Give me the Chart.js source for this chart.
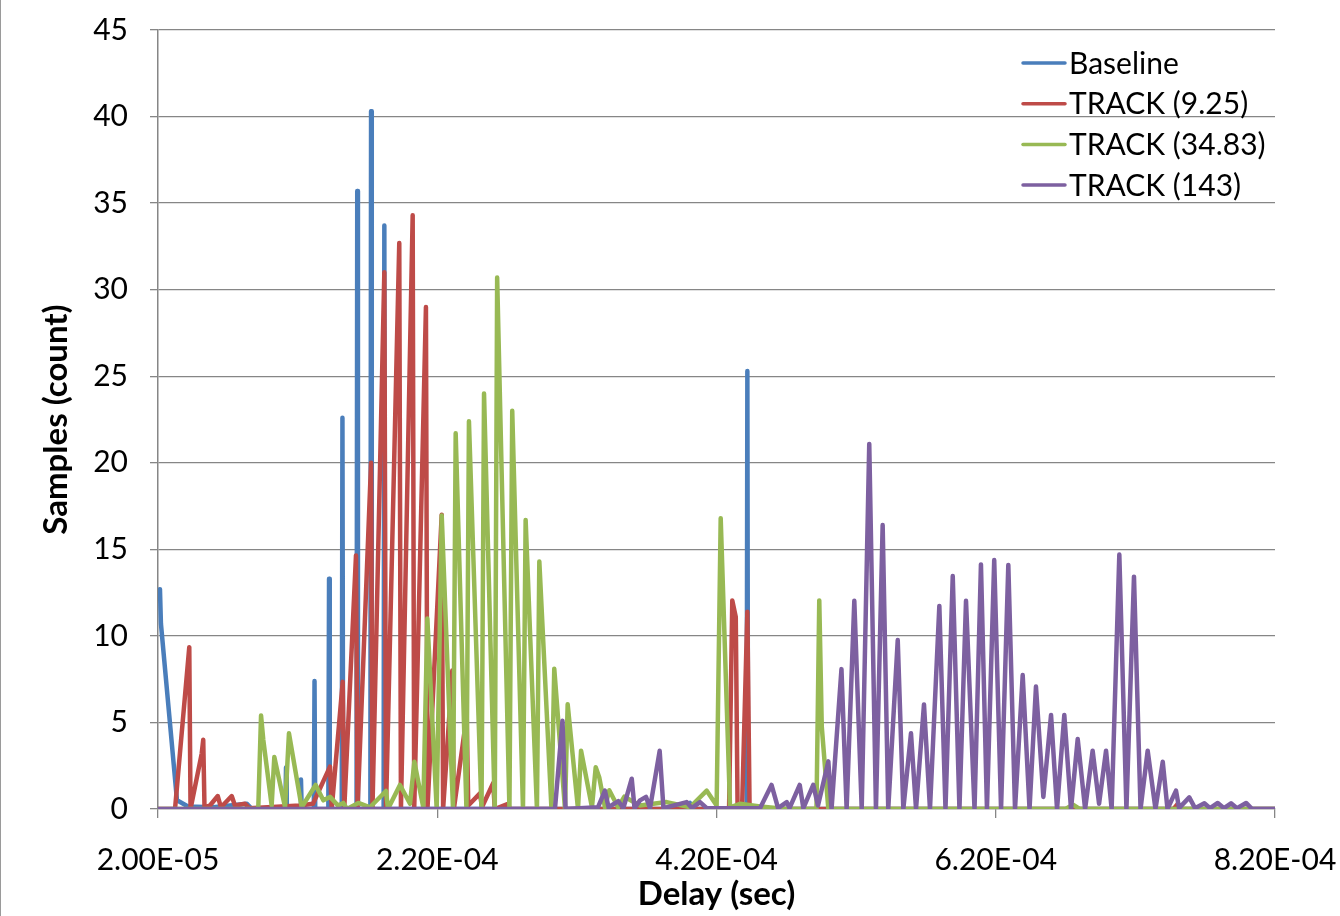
<!doctype html>
<html>
<head>
<meta charset="utf-8">
<title>Delay histogram</title>
<script src="https://cdn.jsdelivr.net/npm/chart.js@4.4.0/dist/chart.umd.min.js"></script>
<style>
  body { margin: 0; background: #fff; }
  .wrap { position: relative; width: 1340px; height: 916px; }
  .edge { position: absolute; left: 0; top: 0; width: 1px; height: 916px; background: #9a9a9a; }
</style>
</head>
<body>
<div class="wrap">
  <canvas id="canvas" width="1340" height="916"></canvas>
  <div class="edge"></div>
</div>
<script>
  // delays are in microseconds, converted to seconds for the axis
  const baselineX = [21.4, 22.1, 33.6, 41.5, 59.4, 83.7, 87.3, 111.2, 111.7, 112.2, 121.9, 122.4, 122.9, 131.6, 132.1, 132.6, 142.0, 142.5, 143.0, 151.6, 152.1, 152.6, 162.2, 162.7, 163.2, 172.1, 172.6, 173.1, 181.6, 182.1, 182.6, 396.0, 401.0, 405.0, 441.6, 442.1, 442.6, 820];
  const baselineY = [12.7, 10.7, 0.5, 0.15, 0.1, 0.3, 0, 0, 2.4, 0, 0, 1.7, 0, 0, 7.4, 0, 0, 13.3, 0, 0, 22.6, 0, 0, 35.7, 0, 0, 40.3, 0, 0, 33.7, 0, 0, 0.35, 0, 0, 25.3, 0, 0];

  const track925X = [20, 32.2, 42.4, 43.3, 51.3, 52.4, 53.3, 57.2, 62.8, 65.1, 72.8, 75.1, 82.3, 85.2, 121.7, 131.0, 143.2, 144.4, 152.3, 153.4, 161.8, 162.9, 172.6, 173.6, 182.1, 183.3, 192.8, 194.0, 202.4, 203.5, 211.9, 213.0, 223.2, 224.2, 230.8, 231.9, 241.1, 242.2, 250.6, 252.0, 260.1, 261.2, 270.7, 272.1, 429.0, 431.3, 433.8, 435.1, 438.3, 442.1, 443.7, 747.4, 750.3, 753.1, 820];
  const track925Y = [0, 0, 9.35, 0, 3.2, 4.0, 0.1, 0.2, 0.75, 0.1, 0.75, 0.2, 0.3, 0.05, 0.2, 0.3, 2.45, 0, 7.35, 0, 14.65, 0, 20.0, 0, 31.0, 0, 32.7, 0, 34.3, 0, 29.0, 0, 17.0, 0, 8.0, 0, 5.4, 0.2, 0.9, 0.1, 1.5, 0, 0.3, 0, 0, 12.05, 11.1, 0, 0, 11.4, 0, 0, 0.3, 0, 0];

  const track3483X = [20, 91.8, 93.8, 95.4, 101.4, 103.3, 111.0, 113.8, 122.9, 132.9, 138.4, 143.2, 148.9, 152.7, 155.4, 163.5, 171.8, 183.3, 184.7, 193.3, 200.5, 203.6, 210.0, 212.9, 219.6, 223.2, 231.3, 233.2, 240.9, 242.7, 251.7, 253.5, 261.2, 262.9, 271.7, 273.7, 281.4, 283.3, 291.4, 293.1, 301.8, 303.8, 311.5, 313.4, 320.8, 323.0, 330.8, 333.5, 336.1, 340.1, 343.2, 349.5, 354.0, 365.2, 384.3, 401.0, 413.0, 420.1, 423.0, 429.7, 436.8, 451.2, 470.0, 491.6, 493.6, 495.4, 500.1, 670.0, 675.3, 680.0, 820];
  const track3483Y = [0, 0, 5.4, 4.0, 0.2, 3.0, 0.1, 4.37, 0.1, 1.39, 0.5, 0.7, 0.2, 0.35, 0, 0.35, 0.1, 1.04, 0, 1.39, 0.3, 2.73, 0.1, 11.0, 0, 16.95, 0, 21.7, 0, 22.4, 0, 24.0, 0, 30.7, 0, 23.0, 0, 16.7, 0, 14.3, 0, 8.1, 0, 6.05, 0, 3.37, 0.1, 2.41, 1.8, 0.1, 1.08, 0.1, 0.71, 0.2, 0.4, 0.1, 1.06, 0.2, 16.8, 0.1, 0.3, 0.15, 0, 0, 12.05, 4.75, 0, 0, 0.25, 0, 0];

  const track143X = [20, 304.3, 309.7, 311.9, 335.1, 340.1, 342.7, 349.7, 353.3, 359.3, 361.3, 365.2, 369.5, 372.4, 379.3, 382.0, 398.6, 402.4, 408.2, 413.0, 451.2, 459.4, 464.1, 470.3, 472.3, 479.6, 482.2, 489.3, 492.7, 500.1, 502.4, 509.5, 513.2, 518.7, 524.0, 529.4, 534.2, 539.0, 543.0, 549.8, 553.8, 559.3, 562.9, 568.6, 572.9, 579.6, 584.0, 589.2, 594.0, 598.7, 604.8, 609.4, 613.7, 618.9, 623.8, 629.0, 633.8, 639.3, 644.2, 648.8, 654.1, 659.6, 663.9, 669.1, 673.9, 678.7, 684.0, 689.4, 694.0, 699.0, 703.0, 708.5, 713.6, 719.0, 723.7, 728.8, 734.4, 739.6, 743.0, 749.1, 751.3, 758.6, 762.7, 769.4, 773.5, 779.0, 783.5, 788.5, 792.8, 799.3, 803.6, 820];
  const track143Y = [0, 0, 5.1, 0, 0.1, 1.06, 0.1, 0.45, 0.05, 1.75, 0.05, 0.5, 0.7, 0.05, 3.36, 0.05, 0.4, 0.05, 0.4, 0.05, 0.05, 1.39, 0.05, 0.4, 0.05, 1.39, 0.05, 1.39, 0.2, 2.75, 0, 8.08, 0, 12.03, 0, 21.09, 0, 16.4, 0, 9.76, 0, 4.37, 0, 6.04, 0, 11.73, 0, 13.46, 0, 12.03, 0, 14.13, 0, 14.38, 0, 14.1, 0, 7.74, 0, 7.07, 0.7, 5.43, 0, 5.43, 0, 4.04, 0, 3.37, 0.3, 3.37, 0, 14.7, 0, 13.42, 0, 3.37, 0, 2.73, 0, 1.06, 0.05, 0.67, 0.05, 0.33, 0.05, 0.35, 0.05, 0.33, 0.05, 0.35, 0, 0];

  const seriesNames = ['Baseline', 'TRACK (9.25)', 'TRACK (34.83)', 'TRACK (143)'];
  const seriesColors = ['#4A7EBB', '#BE4B48', '#98B954', '#7D60A0'];

  const fontFamily = 'Lato, "Liberation Sans", sans-serif';
  const gridColor = '#868686';

  function toPoints(xs, ys) {
    return xs.map((x, i) => ({ x: x * 1e-6, y: ys[i] }));
  }

  function sci(v) {
    const parts = v.toExponential(2).split('e');
    const n = parseInt(parts[1], 10);
    return parts[0] + 'E' + (n < 0 ? '-' : '+') + String(Math.abs(n)).padStart(2, '0');
  }

  function makeSet(i, xs, ys) {
    return {
      label: seriesNames[i],
      data: toPoints(xs, ys),
      borderColor: seriesColors[i],
      backgroundColor: seriesColors[i],
      borderWidth: 4.5,
      pointRadius: 0,
      showLine: true,
      borderCapStyle: 'round',
      borderJoinStyle: 'round',
      order: 4 - i
    };
  }

  // legend drawn inside the plot, top right, like the original
  const legendInside = {
    id: 'legendInside',
    afterDatasetsDraw(chart) {
      const ctx = chart.ctx;
      ctx.save();
      ctx.font = '30px ' + fontFamily;
      ctx.textBaseline = 'middle';
      ctx.fillStyle = '#000';
      chart.data.datasets.forEach((ds, i) => {
        const y = 63 + i * 40.7;
        ctx.strokeStyle = ds.borderColor;
        ctx.lineWidth = 3.5;
        ctx.lineCap = 'round';
        ctx.beginPath();
        ctx.moveTo(1023, y);
        ctx.lineTo(1065, y);
        ctx.stroke();
        ctx.fillText(ds.label, 1069, y + 1);
      });
      ctx.restore();
    }
  };

  new Chart(document.getElementById('canvas').getContext('2d'), {
    type: 'scatter',
    data: {
      datasets: [
        makeSet(0, baselineX, baselineY),
        makeSet(1, track925X, track925Y),
        makeSet(2, track3483X, track3483Y),
        makeSet(3, track143X, track143Y)
      ]
    },
    options: {
      responsive: false,
      animation: false,
      devicePixelRatio: 1,
      layout: { padding: { top: 30, right: 65, left: 0, bottom: 0 } },
      plugins: {
        legend: { display: false },
        tooltip: { enabled: false }
      },
      scales: {
        x: {
          type: 'linear',
          min: 2e-5,
          max: 8.2e-4,
          ticks: {
            stepSize: 2e-4,
            callback: sci,
            color: '#000',
            font: { family: fontFamily, size: 30 },
            padding: 24,
            maxRotation: 0,
            autoSkip: false
          },
          grid: { drawOnChartArea: false, tickLength: 9, color: gridColor, lineWidth: 1.3 },
          border: { color: gridColor, width: 1.3 },
          title: {
            display: true,
            text: 'Delay (sec)',
            color: '#000',
            font: { family: fontFamily, size: 33, weight: 'bold' },
            padding: { top: 0, bottom: 2 }
          },
          afterFit(scale) {
            scale.height = 107;
            scale.paddingLeft = 0;
            scale.paddingRight = 0;
          }
        },
        y: {
          min: 0,
          max: 45,
          ticks: {
            stepSize: 5,
            color: '#000',
            font: { family: fontFamily, size: 30 },
            padding: 22
          },
          grid: { color: gridColor, lineWidth: 1.3, tickLength: 8 },
          border: { color: gridColor, width: 1.5 },
          title: {
            display: true,
            text: 'Samples (count)',
            color: '#000',
            font: { family: fontFamily, size: 33, weight: 'bold' },
            padding: { top: 37, bottom: 0 }
          },
          afterFit(scale) {
            scale.width = 158;
            scale.paddingTop = 0;
            scale.paddingBottom = 0;
          }
        }
      }
    },
    plugins: [legendInside]
  });
</script>
</body>
</html>
